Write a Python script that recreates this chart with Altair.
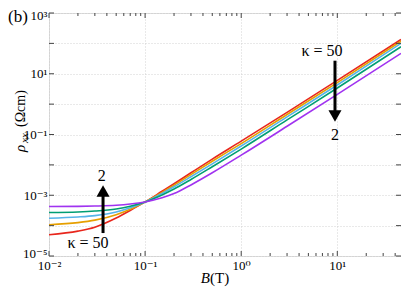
import altair as alt
import pandas as pd

# ---- data (rho in Ohm cm, stored as log10 values) ----
B = [0.01, 0.02, 0.03, 0.05, 0.07, 0.1, 0.15, 0.2, 0.3, 0.5, 1, 3, 10, 46]
series_names = ["κ=50", "κ=20", "κ=10", "κ=5", "κ=2"]
series_colors = ["#e8261c", "#e69f00", "#56b4e9", "#009e73", "#a033f0"]
log_rho_k50 = [-4.30, -4.18, -4.05, -3.75, -3.50, -3.22, -2.87, -2.62, -2.26, -1.81, -1.22, -0.27, 0.78, 2.13]
log_rho_k20 = [-3.97, -3.90, -3.82, -3.64, -3.46, -3.22, -2.91, -2.67, -2.32, -1.88, -1.30, -0.34, 0.71, 2.07]
log_rho_k10 = [-3.755, -3.715, -3.67, -3.55, -3.41, -3.22, -2.94, -2.72, -2.39, -1.965, -1.38, -0.42, 0.63, 2.00]
log_rho_k5 = [-3.57, -3.55, -3.52, -3.45, -3.36, -3.22, -2.99, -2.795, -2.48, -2.06, -1.48, -0.52, 0.53, 1.89]
log_rho_k2 = [-3.37, -3.365, -3.355, -3.33, -3.29, -3.22, -3.085, -2.945, -2.66, -2.26, -1.68, -0.73, 0.32, 1.67]

x_domain = [0.01, 46]
y_domain = [1e-5, 1e3]
x_major = [0.01, 0.1, 1, 10]
x_minor = [0.02, 0.03, 0.04, 0.05, 0.06, 0.07, 0.08, 0.09,
           0.2, 0.3, 0.4, 0.5, 0.6, 0.7, 0.8, 0.9,
           2, 3, 4, 5, 6, 7, 8, 9, 20, 30, 40]
x_labels = ["10⁻²", "10⁻¹", "10⁰", "10¹"]
y_major = [1e-5, 1e-4, 1e-3, 1e-2, 1e-1, 1, 10, 100, 1000]
y_label_values = [1e-5, 1e-3, 1e-1, 1e1, 1e3]
y_labels = ["10⁻⁵", "10⁻³", "10⁻¹", "10¹", "10³"]

# annotations (positions in data units)
arrow_B = [9.46, 0.0365]
arrow_tail = [26.9, 5.7e-5]
arrow_end = [0.51, 1.1e-3]
head_rho = [0.406, 1.38e-3]
head_shape = ["triangle-down", "triangle-up"]
note_text = ["κ = 50", "2", "2", "κ = 50"]
note_B = [6.93, 9.46, 0.0353, 0.0255]
note_rho = [56, 0.096, 4.3e-3, 2.68e-5]

W, H = 352, 243
SERIF = "Liberation Serif, DejaVu Serif"

rows = []
for name, vals in zip(series_names, [log_rho_k50, log_rho_k20, log_rho_k10, log_rho_k5, log_rho_k2]):
    for b, lv in zip(B, vals):
        rows.append({"B": b, "rho": 10 ** lv, "series": name})
df = pd.DataFrame(rows)


def label_expr(vals, texts):
    expr = "''"
    for v, t in zip(vals, texts):
        expr = f"abs(datum.value / {v!r} - 1) < 0.001 ? '{t}' : ({expr})"
    return expr


xscale = alt.Scale(type="log", domain=x_domain, nice=False)
yscale = alt.Scale(type="log", domain=y_domain, nice=False)
xaxis = alt.Axis(values=x_major, labelExpr=label_expr(x_major, x_labels), title=None,
                 grid=True, gridDash=[1, 2], gridColor="#c8c8c8", gridWidth=0.8,
                 ticks=False, domain=False, labelFont=SERIF, labelFontSize=13,
                 labelColor="black", labelPadding=3, labelFlush=False, labelOverlap=False)
yaxis = alt.Axis(values=y_major, labelExpr=label_expr(y_label_values, y_labels),
                 title=None,
                 grid=True, gridDash=[1, 2], gridColor="#c8c8c8", gridWidth=0.8,
                 ticks=False, domain=False, labelFont=SERIF, labelFontSize=13,
                 labelColor="black", labelPadding=2, labelFlush=False, labelOverlap=False,
                 labelOffset={"condition": [{"test": "datum.value < 2e-5", "value": -3},
                                            {"test": "datum.value > 500", "value": 2}], "value": 0})

X = alt.X("B:Q", scale=xscale, axis=xaxis)
Y = alt.Y("rho:Q", scale=yscale, axis=yaxis)

lines = alt.Chart(df).mark_line(strokeWidth=1.6, interpolate="monotone", clip=True).encode(
    x=X, y=Y,
    color=alt.Color("series:N", scale=alt.Scale(domain=series_names, range=series_colors), legend=None),
)

tick_col = "#444"
xmaj = pd.DataFrame({"B": x_major})
xmin = pd.DataFrame({"B": x_minor})
ymaj = pd.DataFrame({"rho": y_major})

t_bot_maj = alt.Chart(xmaj).mark_rule(color=tick_col, strokeWidth=1).encode(x=X, y=alt.value(H), y2=alt.value(H - 5))
t_bot_min = alt.Chart(xmin).mark_rule(color=tick_col, strokeWidth=1).encode(x=X, y=alt.value(H), y2=alt.value(H - 3))
t_top_maj = alt.Chart(xmaj).mark_rule(color=tick_col, strokeWidth=1).encode(x=X, y=alt.value(0), y2=alt.value(5))
t_top_min = alt.Chart(xmin).mark_rule(color=tick_col, strokeWidth=1).encode(x=X, y=alt.value(0), y2=alt.value(3))
t_left = alt.Chart(ymaj).mark_rule(color=tick_col, strokeWidth=1).encode(y=Y, x=alt.value(0), x2=alt.value(5))
t_right = alt.Chart(ymaj).mark_rule(color=tick_col, strokeWidth=1).encode(y=Y, x=alt.value(W), x2=alt.value(W - 5))

arr = pd.DataFrame({"B": arrow_B, "rho": arrow_tail, "rho2": arrow_end})
shafts = alt.Chart(arr).mark_rule(color="black", strokeWidth=3).encode(x=X, y=Y, y2="rho2:Q")
heads = alt.layer(*[
    alt.Chart(pd.DataFrame({"B": [b], "rho": [r]})).mark_point(
        shape=s, filled=True, size=170, color="black", opacity=1, strokeWidth=0).encode(x=X, y=Y)
    for b, r, s in zip(arrow_B, head_rho, head_shape)
])

notes = alt.Chart(pd.DataFrame({"B": note_B, "rho": note_rho, "t": note_text})).mark_text(
    font=SERIF, fontSize=16, color="black", baseline="middle", align="center").encode(x=X, y=Y, text="t:N")


def label(txt, x, y, size, style="normal", align="left", baseline="alphabetic", angle=0):
    return alt.Chart(pd.DataFrame({"t": [txt]})).mark_text(
        font=SERIF, fontSize=size, fontStyle=style, color="black",
        align=align, baseline=baseline, angle=angle).encode(
        x=alt.value(x), y=alt.value(y), text="t:N")


panel = label("(b)", -41, -4, 17, baseline="top")
xt1 = label("B", 161, 270, 15, style="italic", align="right")
xt2 = label("(T)", 161, 270, 15)
yt1 = label("ρ", -24.5, 139, 15, style="italic", angle=270)
yt2 = label("xx", -21.5, 130, 11, style="italic", angle=270)
yt3 = label("(Ωcm)", -24.5, 114, 14, angle=270)

chart = alt.layer(lines, t_bot_maj, t_bot_min, t_top_maj, t_top_min, t_left, t_right,
                  shafts, heads, notes, panel, xt1, xt2, yt1, yt2, yt3).properties(
    width=W, height=H,
    autosize=alt.AutoSizeParams(type="none"),
    padding={"left": 41, "top": 5, "right": 0, "bottom": 31},
).configure_view(stroke="#444", strokeWidth=1).configure(background="white")

chart.save("out.html", embed_options={"renderer": "svg", "actions": False})
